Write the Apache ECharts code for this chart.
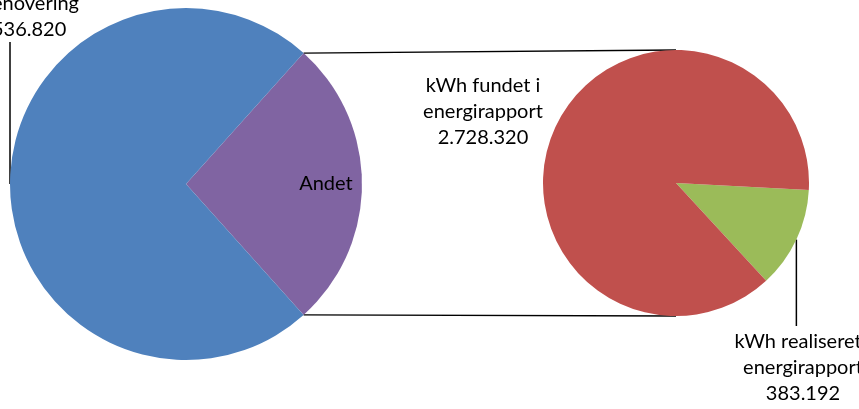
<!DOCTYPE html>
<html>
<head>
<meta charset="utf-8">
<script src="https://cdn.jsdelivr.net/npm/echarts@6/dist/echarts.min.js"></script>
<style>
  html, body { margin: 0; padding: 0; background: #fff; }
  #chart { width: 859px; height: 409px; }
</style>
</head>
<body>
<div id="chart"></div>
<script>
// main pie: "Andet" is split out into the small pie on the right
var mainNames = ['Andet', 'kWh ikke relateret\ntil renovering'];
var mainValues = [3111512, 8536820];
var mainColors = ['#8064A2', '#4F81BD'];

// detail pie (breakdown of "Andet")
var detailNames = ['kWh realiseret i\nenergirapport', 'kWh fundet i\nenergirapport'];
var detailValues = [383192, 2728320];
var detailColors = ['#9BBB59', '#C0504D'];

var FONT = 'Lato, "Open Sans", sans-serif';
var FS = 20, LH = 26;
var L = { cx: 186, cy: 184, r: 176 };   // big pie
var R = { cx: 676, cy: 183, r: 133 };   // small pie
var detailStart = 357;

function fmt(v) {
	return String(v).replace(/\B(?=(\d{3})+(?!\d))/g, '.');
}
function sum(a) {
	return a.reduce(function(s, v) { return s + v; }, 0);
}

var mainTotal = sum(mainValues);
var andetFrac = mainValues[0] / mainTotal;
var mainStart = andetFrac * 180;        // centre the "Andet" slice on the right side
var detailTotal = sum(detailValues);
var greenMid = (detailStart - detailValues[0] / detailTotal * 180) * Math.PI / 180;

function ptOn(p, deg) {
	var a = deg * Math.PI / 180;
	return [p.cx + p.r * Math.cos(a), p.cy - p.r * Math.sin(a)];
}

var chart = echarts.init(document.getElementById('chart'));

var topPt = ptOn(L, mainStart);
var botPt = ptOn(L, -mainStart);

chart.setOption({
	animation: false,
	textStyle: { fontFamily: FONT },
	graphic: [
		{ type: 'line', shape: { x1: topPt[0], y1: topPt[1], x2: R.cx, y2: R.cy - R.r }, style: { stroke: '#000', lineWidth: 1.3 }, z: 1 },
		{ type: 'line', shape: { x1: botPt[0], y1: botPt[1], x2: R.cx, y2: R.cy + R.r }, style: { stroke: '#000', lineWidth: 1.3 }, z: 1 }
	],
	series: [
		{
			type: 'pie',
			center: [L.cx, L.cy],
			radius: [0, L.r],
			startAngle: mainStart,
			clockwise: true,
			avoidLabelOverlap: false,
			silent: true,
			z: 3,
			label: {
				show: true,
				position: 'outside',
				color: '#000',
				fontSize: FS,
				lineHeight: LH,
				fontFamily: FONT,
				formatter: function(p) {
					return p.dataIndex === 0 ? p.name : p.name + '\n' + fmt(p.value);
				}
			},
			labelLine: { show: true, lineStyle: { color: '#000', width: 1.5 } },
			labelLayout: function(p) {
				if (p.dataIndex === 0) {
					return { x: L.cx + L.r * 0.795, y: L.cy, align: 'center', verticalAlign: 'middle', labelLinePoints: [] };
				}
				var edge = ptOn(L, 180);
				return {
					x: 21, y: 43, align: 'center', verticalAlign: 'bottom',
					labelLinePoints: [[edge[0], edge[1]], [edge[0], 42], [edge[0], 42]]
				};
			},
			data: mainNames.map(function(n, i) {
				return {
					name: n, value: mainValues[i],
					itemStyle: { color: mainColors[i] },
					labelLine: { show: i !== 0 }
				};
			})
		},
		{
			type: 'pie',
			center: [R.cx, R.cy],
			radius: [0, R.r],
			startAngle: detailStart,
			clockwise: true,
			avoidLabelOverlap: false,
			silent: true,
			z: 3,
			label: {
				show: true,
				position: 'outside',
				color: '#000',
				fontSize: FS,
				lineHeight: LH,
				fontFamily: FONT,
				formatter: function(p) {
					return p.name + '\n' + fmt(p.value);
				}
			},
			labelLine: { show: true, lineStyle: { color: '#000', width: 1.5 } },
			labelLayout: function(p) {
				if (p.dataIndex === 1) {
					return { x: 483, y: 112, align: 'center', verticalAlign: 'middle' };
				}
				var px = R.cx + R.r * Math.cos(greenMid);
				var py = R.cy - R.r * Math.sin(greenMid);
				return {
					x: 803, y: 329, align: 'center', verticalAlign: 'top',
					labelLinePoints: [[px, py], [px, 326], [px, 326]]
				};
			},
			data: detailNames.map(function(n, i) {
				return {
					name: n, value: detailValues[i],
					itemStyle: { color: detailColors[i] },
					labelLine: { show: i === 0 }
				};
			})
		}
	]
});
</script>
</body>
</html>
